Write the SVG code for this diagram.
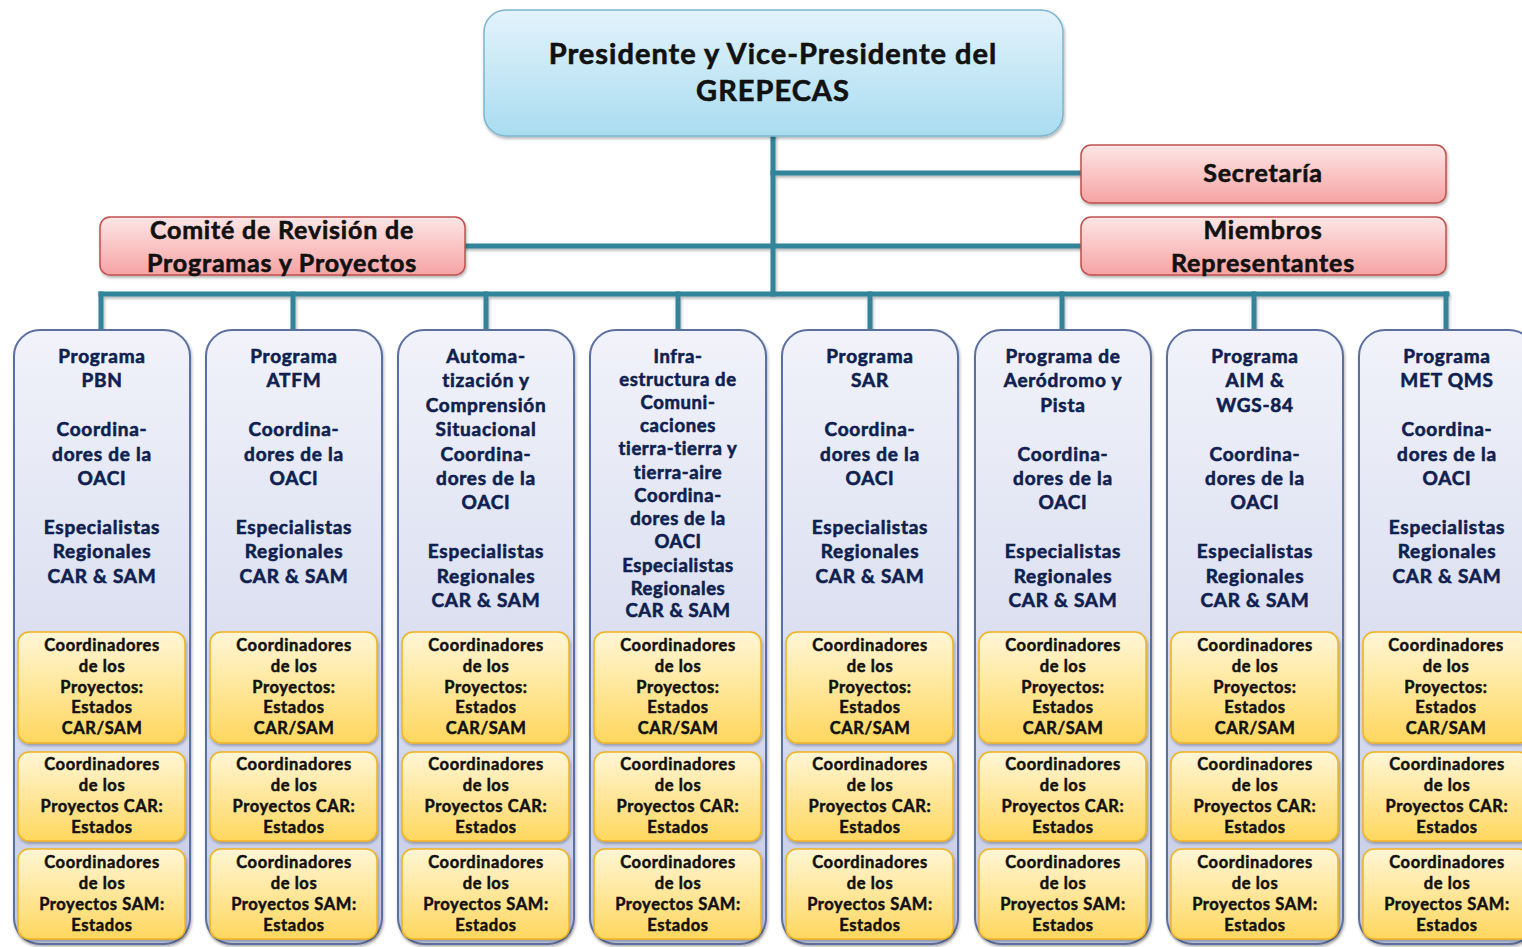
<svg xmlns="http://www.w3.org/2000/svg" width="1522" height="947" viewBox="0 0 1522 947">
<defs>
<linearGradient id="gBlue" x1="0" y1="0" x2="0" y2="1"><stop offset="0" stop-color="#e3f3fb"/><stop offset="1" stop-color="#a9dcf0"/></linearGradient>
<linearGradient id="gPink" x1="0" y1="0" x2="0" y2="1"><stop offset="0" stop-color="#fde6e6"/><stop offset="1" stop-color="#f6a3a3"/></linearGradient>
<linearGradient id="gCol" x1="0" y1="0" x2="0" y2="1"><stop offset="0" stop-color="#f1f2fa"/><stop offset="1" stop-color="#c5cce6"/></linearGradient>
<linearGradient id="gYel" x1="0" y1="0" x2="0" y2="1"><stop offset="0" stop-color="#fff6d6"/><stop offset="1" stop-color="#ffd75e"/></linearGradient>
<filter id="sh" x="-10%" y="-10%" width="120%" height="130%"><feDropShadow dx="1" dy="2" stdDeviation="1.5" flood-color="#000" flood-opacity="0.3"/></filter>
</defs>
<style>
.t{font-family:Lato,"Liberation Sans",sans-serif;font-weight:bold;text-anchor:middle;stroke-width:0.6;}
.top{font-size:29px;fill:#111;stroke:#111;letter-spacing:1px;}
.pk{font-size:25px;fill:#111;stroke:#111;letter-spacing:0.8px;}
.ct{font-size:19px;fill:#0f1f4f;stroke:#0f1f4f;letter-spacing:0.75px;}
.ct4{font-size:18.5px;fill:#0f1f4f;stroke:#0f1f4f;letter-spacing:0.6px;}
.yt{font-size:16.5px;fill:#111;stroke:#111;stroke-width:0.5;letter-spacing:0.6px;}
.blue{fill:url(#gBlue);stroke:#7ab6cf;stroke-width:1.5;filter:url(#sh);}
.pink{fill:url(#gPink);stroke:#c0504d;stroke-width:1.5;filter:url(#sh);}
.col{fill:url(#gCol);stroke:#5b6fa0;stroke-width:2;filter:url(#sh);}
.yel{fill:url(#gYel);stroke:#f2b322;stroke-width:1.5;filter:url(#sh);}
.cn{stroke:#31849b;stroke-width:5;fill:none;stroke-linecap:square;}
</style>

<g id="connectors" filter="url(#sh)">
<path class="cn" d="M773 136 V294"/>
<path class="cn" d="M773 173 H1081"/>
<path class="cn" d="M773 246 H1081"/>
<path class="cn" d="M465 246 H773"/>
<path class="cn" d="M101 294 H1447"/>
<path class="cn" d="M101 294 V329 M293 294 V329 M486 294 V329 M678 294 V329 M870 294 V329 M1062 294 V329 M1254 294 V329 M1446 294 V329"/>
</g>

<g id="president">
<rect class="blue" x="484" y="10" width="579" height="126" rx="22"/>
<text class="t top" x="773" y="64">Presidente y Vice-Presidente del</text>
<text class="t top" x="773" y="101">GREPECAS</text>
</g>

<g id="secretaria">
<rect class="pink" x="1081" y="145" width="365" height="58" rx="10"/>
<text class="t pk" x="1263" y="182">Secretaría</text>
</g>

<g id="miembros">
<rect class="pink" x="1081" y="217" width="365" height="58" rx="10"/>
<text class="t pk" x="1263" y="239">Miembros</text>
<text class="t pk" x="1263" y="272">Representantes</text>
</g>

<g id="comite">
<rect class="pink" x="100" y="217" width="365" height="58" rx="10"/>
<text class="t pk" x="282" y="239">Comité de Revisión de</text>
<text class="t pk" x="282" y="272">Programas y Proyectos</text>
</g>

<!-- Column 1 -->
<g id="col-pbn" transform="translate(14,0)">
<rect class="col" x="0" y="330" width="176" height="614" rx="26"/>
<text class="t ct"><tspan x="88" y="363">Programa</tspan><tspan x="88" y="387">PBN</tspan><tspan x="88" y="436">Coordina-</tspan><tspan x="88" y="461">dores de la</tspan><tspan x="88" y="485">OACI</tspan><tspan x="88" y="534">Especialistas</tspan><tspan x="88" y="558">Regionales</tspan><tspan x="88" y="583">CAR &amp; SAM</tspan></text>
<rect class="yel" x="4" y="632" width="167" height="111" rx="11"/>
<text class="t yt"><tspan x="88" y="651">Coordinadores</tspan><tspan x="88" y="672">de los</tspan><tspan x="88" y="693">Proyectos:</tspan><tspan x="88" y="713">Estados</tspan><tspan x="88" y="734">CAR/SAM</tspan></text>
<rect class="yel" x="4" y="752" width="167" height="89" rx="11"/>
<text class="t yt"><tspan x="88" y="770">Coordinadores</tspan><tspan x="88" y="791">de los</tspan><tspan x="88" y="812">Proyectos CAR:</tspan><tspan x="88" y="833">Estados</tspan></text>
<rect class="yel" x="4" y="849" width="167" height="90" rx="11"/>
<text class="t yt"><tspan x="88" y="868">Coordinadores</tspan><tspan x="88" y="889">de los</tspan><tspan x="88" y="910">Proyectos SAM:</tspan><tspan x="88" y="931">Estados</tspan></text>
</g>

<!-- Column 2 -->
<g id="col-atfm" transform="translate(206,0)">
<rect class="col" x="0" y="330" width="176" height="614" rx="26"/>
<text class="t ct"><tspan x="88" y="363">Programa</tspan><tspan x="88" y="387">ATFM</tspan><tspan x="88" y="436">Coordina-</tspan><tspan x="88" y="461">dores de la</tspan><tspan x="88" y="485">OACI</tspan><tspan x="88" y="534">Especialistas</tspan><tspan x="88" y="558">Regionales</tspan><tspan x="88" y="583">CAR &amp; SAM</tspan></text>
<rect class="yel" x="4" y="632" width="167" height="111" rx="11"/>
<text class="t yt"><tspan x="88" y="651">Coordinadores</tspan><tspan x="88" y="672">de los</tspan><tspan x="88" y="693">Proyectos:</tspan><tspan x="88" y="713">Estados</tspan><tspan x="88" y="734">CAR/SAM</tspan></text>
<rect class="yel" x="4" y="752" width="167" height="89" rx="11"/>
<text class="t yt"><tspan x="88" y="770">Coordinadores</tspan><tspan x="88" y="791">de los</tspan><tspan x="88" y="812">Proyectos CAR:</tspan><tspan x="88" y="833">Estados</tspan></text>
<rect class="yel" x="4" y="849" width="167" height="90" rx="11"/>
<text class="t yt"><tspan x="88" y="868">Coordinadores</tspan><tspan x="88" y="889">de los</tspan><tspan x="88" y="910">Proyectos SAM:</tspan><tspan x="88" y="931">Estados</tspan></text>
</g>

<!-- Column 3 -->
<g id="col-auto" transform="translate(398,0)">
<rect class="col" x="0" y="330" width="176" height="614" rx="26"/>
<text class="t ct"><tspan x="88" y="363">Automa-</tspan><tspan x="88" y="387">tización y</tspan><tspan x="88" y="412">Comprensión</tspan><tspan x="88" y="436">Situacional</tspan><tspan x="88" y="461">Coordina-</tspan><tspan x="88" y="485">dores de la</tspan><tspan x="88" y="509">OACI</tspan><tspan x="88" y="558">Especialistas</tspan><tspan x="88" y="583">Regionales</tspan><tspan x="88" y="607">CAR &amp; SAM</tspan></text>
<rect class="yel" x="4" y="632" width="167" height="111" rx="11"/>
<text class="t yt"><tspan x="88" y="651">Coordinadores</tspan><tspan x="88" y="672">de los</tspan><tspan x="88" y="693">Proyectos:</tspan><tspan x="88" y="713">Estados</tspan><tspan x="88" y="734">CAR/SAM</tspan></text>
<rect class="yel" x="4" y="752" width="167" height="89" rx="11"/>
<text class="t yt"><tspan x="88" y="770">Coordinadores</tspan><tspan x="88" y="791">de los</tspan><tspan x="88" y="812">Proyectos CAR:</tspan><tspan x="88" y="833">Estados</tspan></text>
<rect class="yel" x="4" y="849" width="167" height="90" rx="11"/>
<text class="t yt"><tspan x="88" y="868">Coordinadores</tspan><tspan x="88" y="889">de los</tspan><tspan x="88" y="910">Proyectos SAM:</tspan><tspan x="88" y="931">Estados</tspan></text>
</g>

<!-- Column 4 -->
<g id="col-infra" transform="translate(590,0)">
<rect class="col" x="0" y="330" width="176" height="614" rx="26"/>
<text class="t ct4"><tspan x="88" y="363">Infra-</tspan><tspan x="88" y="386">estructura de</tspan><tspan x="88" y="409">Comuni-</tspan><tspan x="88" y="432">caciones</tspan><tspan x="88" y="455">tierra-tierra y</tspan><tspan x="88" y="479">tierra-aire</tspan><tspan x="88" y="502">Coordina-</tspan><tspan x="88" y="525">dores de la</tspan><tspan x="88" y="548">OACI</tspan><tspan x="88" y="572">Especialistas</tspan><tspan x="88" y="595">Regionales</tspan><tspan x="88" y="617">CAR &amp; SAM</tspan></text>
<rect class="yel" x="4" y="632" width="167" height="111" rx="11"/>
<text class="t yt"><tspan x="88" y="651">Coordinadores</tspan><tspan x="88" y="672">de los</tspan><tspan x="88" y="693">Proyectos:</tspan><tspan x="88" y="713">Estados</tspan><tspan x="88" y="734">CAR/SAM</tspan></text>
<rect class="yel" x="4" y="752" width="167" height="89" rx="11"/>
<text class="t yt"><tspan x="88" y="770">Coordinadores</tspan><tspan x="88" y="791">de los</tspan><tspan x="88" y="812">Proyectos CAR:</tspan><tspan x="88" y="833">Estados</tspan></text>
<rect class="yel" x="4" y="849" width="167" height="90" rx="11"/>
<text class="t yt"><tspan x="88" y="868">Coordinadores</tspan><tspan x="88" y="889">de los</tspan><tspan x="88" y="910">Proyectos SAM:</tspan><tspan x="88" y="931">Estados</tspan></text>
</g>

<!-- Column 5 -->
<g id="col-sar" transform="translate(782,0)">
<rect class="col" x="0" y="330" width="176" height="614" rx="26"/>
<text class="t ct"><tspan x="88" y="363">Programa</tspan><tspan x="88" y="387">SAR</tspan><tspan x="88" y="436">Coordina-</tspan><tspan x="88" y="461">dores de la</tspan><tspan x="88" y="485">OACI</tspan><tspan x="88" y="534">Especialistas</tspan><tspan x="88" y="558">Regionales</tspan><tspan x="88" y="583">CAR &amp; SAM</tspan></text>
<rect class="yel" x="4" y="632" width="167" height="111" rx="11"/>
<text class="t yt"><tspan x="88" y="651">Coordinadores</tspan><tspan x="88" y="672">de los</tspan><tspan x="88" y="693">Proyectos:</tspan><tspan x="88" y="713">Estados</tspan><tspan x="88" y="734">CAR/SAM</tspan></text>
<rect class="yel" x="4" y="752" width="167" height="89" rx="11"/>
<text class="t yt"><tspan x="88" y="770">Coordinadores</tspan><tspan x="88" y="791">de los</tspan><tspan x="88" y="812">Proyectos CAR:</tspan><tspan x="88" y="833">Estados</tspan></text>
<rect class="yel" x="4" y="849" width="167" height="90" rx="11"/>
<text class="t yt"><tspan x="88" y="868">Coordinadores</tspan><tspan x="88" y="889">de los</tspan><tspan x="88" y="910">Proyectos SAM:</tspan><tspan x="88" y="931">Estados</tspan></text>
</g>

<!-- Column 6 -->
<g id="col-aero" transform="translate(975,0)">
<rect class="col" x="0" y="330" width="176" height="614" rx="26"/>
<text class="t ct"><tspan x="88" y="363">Programa de</tspan><tspan x="88" y="387">Aeródromo y</tspan><tspan x="88" y="412">Pista</tspan><tspan x="88" y="461">Coordina-</tspan><tspan x="88" y="485">dores de la</tspan><tspan x="88" y="509">OACI</tspan><tspan x="88" y="558">Especialistas</tspan><tspan x="88" y="583">Regionales</tspan><tspan x="88" y="607">CAR &amp; SAM</tspan></text>
<rect class="yel" x="4" y="632" width="167" height="111" rx="11"/>
<text class="t yt"><tspan x="88" y="651">Coordinadores</tspan><tspan x="88" y="672">de los</tspan><tspan x="88" y="693">Proyectos:</tspan><tspan x="88" y="713">Estados</tspan><tspan x="88" y="734">CAR/SAM</tspan></text>
<rect class="yel" x="4" y="752" width="167" height="89" rx="11"/>
<text class="t yt"><tspan x="88" y="770">Coordinadores</tspan><tspan x="88" y="791">de los</tspan><tspan x="88" y="812">Proyectos CAR:</tspan><tspan x="88" y="833">Estados</tspan></text>
<rect class="yel" x="4" y="849" width="167" height="90" rx="11"/>
<text class="t yt"><tspan x="88" y="868">Coordinadores</tspan><tspan x="88" y="889">de los</tspan><tspan x="88" y="910">Proyectos SAM:</tspan><tspan x="88" y="931">Estados</tspan></text>
</g>

<!-- Column 7 -->
<g id="col-aim" transform="translate(1167,0)">
<rect class="col" x="0" y="330" width="176" height="614" rx="26"/>
<text class="t ct"><tspan x="88" y="363">Programa</tspan><tspan x="88" y="387">AIM &amp;</tspan><tspan x="88" y="412">WGS-84</tspan><tspan x="88" y="461">Coordina-</tspan><tspan x="88" y="485">dores de la</tspan><tspan x="88" y="509">OACI</tspan><tspan x="88" y="558">Especialistas</tspan><tspan x="88" y="583">Regionales</tspan><tspan x="88" y="607">CAR &amp; SAM</tspan></text>
<rect class="yel" x="4" y="632" width="167" height="111" rx="11"/>
<text class="t yt"><tspan x="88" y="651">Coordinadores</tspan><tspan x="88" y="672">de los</tspan><tspan x="88" y="693">Proyectos:</tspan><tspan x="88" y="713">Estados</tspan><tspan x="88" y="734">CAR/SAM</tspan></text>
<rect class="yel" x="4" y="752" width="167" height="89" rx="11"/>
<text class="t yt"><tspan x="88" y="770">Coordinadores</tspan><tspan x="88" y="791">de los</tspan><tspan x="88" y="812">Proyectos CAR:</tspan><tspan x="88" y="833">Estados</tspan></text>
<rect class="yel" x="4" y="849" width="167" height="90" rx="11"/>
<text class="t yt"><tspan x="88" y="868">Coordinadores</tspan><tspan x="88" y="889">de los</tspan><tspan x="88" y="910">Proyectos SAM:</tspan><tspan x="88" y="931">Estados</tspan></text>
</g>

<!-- Column 8 -->
<g id="col-met" transform="translate(1359,0)">
<rect class="col" x="0" y="330" width="176" height="614" rx="26"/>
<text class="t ct"><tspan x="88" y="363">Programa</tspan><tspan x="88" y="387">MET QMS</tspan><tspan x="88" y="436">Coordina-</tspan><tspan x="88" y="461">dores de la</tspan><tspan x="88" y="485">OACI</tspan><tspan x="88" y="534">Especialistas</tspan><tspan x="88" y="558">Regionales</tspan><tspan x="88" y="583">CAR &amp; SAM</tspan></text>
<rect class="yel" x="4" y="632" width="167" height="111" rx="11"/>
<text class="t yt"><tspan x="87" y="651">Coordinadores</tspan><tspan x="87" y="672">de los</tspan><tspan x="87" y="693">Proyectos:</tspan><tspan x="87" y="713">Estados</tspan><tspan x="87" y="734">CAR/SAM</tspan></text>
<rect class="yel" x="4" y="752" width="167" height="89" rx="11"/>
<text class="t yt"><tspan x="88" y="770">Coordinadores</tspan><tspan x="88" y="791">de los</tspan><tspan x="88" y="812">Proyectos CAR:</tspan><tspan x="88" y="833">Estados</tspan></text>
<rect class="yel" x="4" y="849" width="167" height="90" rx="11"/>
<text class="t yt"><tspan x="88" y="868">Coordinadores</tspan><tspan x="88" y="889">de los</tspan><tspan x="88" y="910">Proyectos SAM:</tspan><tspan x="88" y="931">Estados</tspan></text>
</g>
</svg>
